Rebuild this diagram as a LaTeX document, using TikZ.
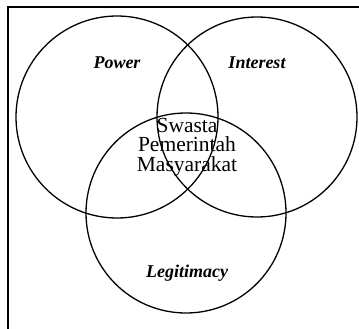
\documentclass[tikz,border=0pt]{standalone}
\usepackage{fontspec}
\setmainfont{Liberation Serif}
\begin{document}
\begin{tikzpicture}[x=1pt, y=-1pt, line width=1.3pt]

    \useasboundingbox (0,0) rectangle (359,329);

    %Rahmen
    \draw[-, line width=1.5pt](8,329)--(8,7)--(359,7);

    %Kreise
    \draw(117,117) circle (101);
    \draw(257,117) circle (100);
    \draw(186,213) circle (100);

    %Beschriftung
    \node (power)  at (117,63)  {\fontsize{18}{20}\selectfont\bfseries\itshape Power};
    \node (interest) at (257,63) {\fontsize{18}{20}\selectfont\bfseries\itshape Interest};
    \node (legit)  at (187,273) {\fontsize{18}{20}\selectfont\bfseries\itshape Legitimacy};

    %Mitte
    \node[align=center, inner sep=0pt, font=\fontsize{21.5}{19.5}\selectfont] (mitte) at (187,147) {Swasta\\Pemerintah\\Masyarakat};

\end{tikzpicture}
\end{document}
